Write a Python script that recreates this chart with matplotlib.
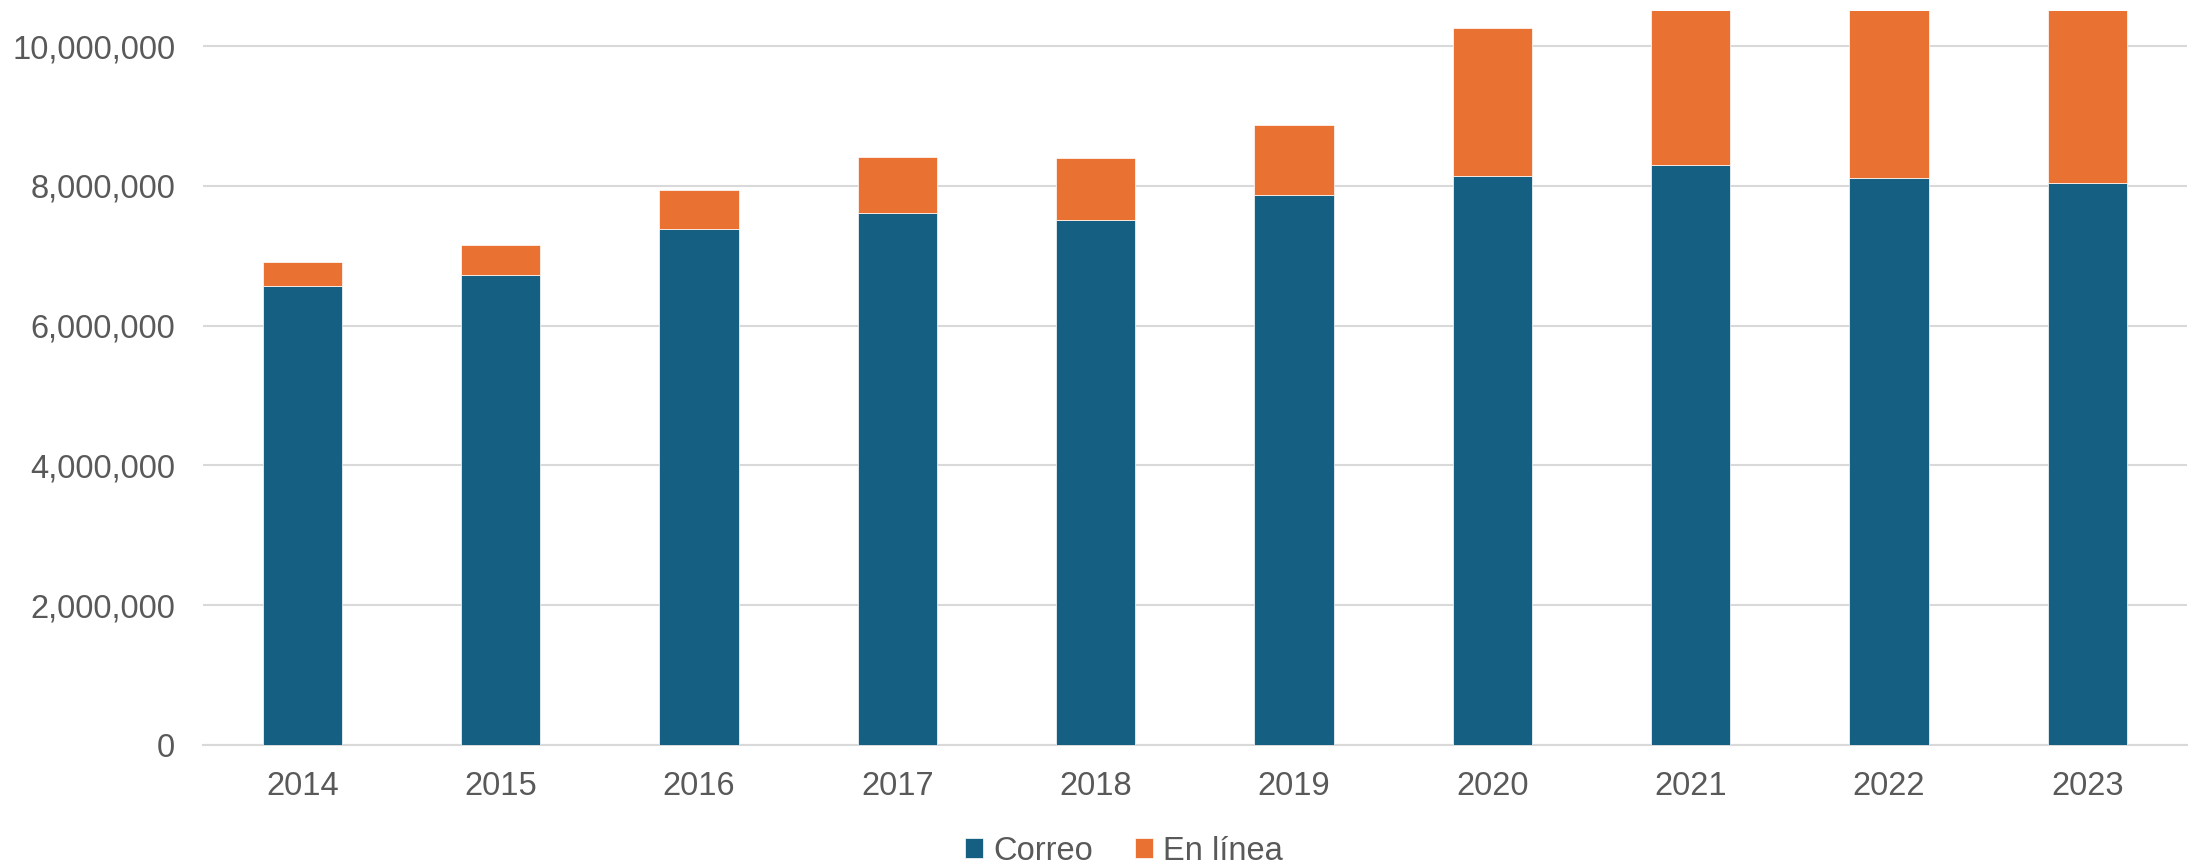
import numpy as np
import matplotlib.pyplot as plt
from matplotlib.ticker import FuncFormatter

plt.rcParams['font.family'] = ['Liberation Sans', 'DejaVu Sans']

years = ['2014', '2015', '2016', '2017', '2018', '2019', '2020', '2021', '2022', '2023']
correo = [6560000, 6720000, 7380000, 7615000, 7510000, 7870000, 8140000, 8295000, 8120000, 8040000]
en_linea = [345000, 440000, 565000, 805000, 890000, 1005000, 2125000, 2650000, 2750000, 2850000]

BLUE = '#156082'
ORANGE = '#E97132'
TEXT = '#595959'
GRID = '#D9D9D9'

fig = plt.figure(figsize=(21.91, 8.64), dpi=100)
ax = fig.add_axes([0.0927, 0.138, 0.9053, 0.849])

x = np.arange(len(years))
width = 0.40
ax.bar(x, correo, width, color=BLUE, edgecolor='white', linewidth=0.5, label='Correo', zorder=3)
ax.bar(x, en_linea, width, bottom=correo, color=ORANGE, edgecolor='white', linewidth=0.5,
       label='En línea', zorder=3)

ax.set_xlim(-0.5, len(years) - 0.5)
ax.set_ylim(0, 10500000)
ax.set_yticks(np.arange(0, 10000001, 2000000))
ax.yaxis.set_major_formatter(FuncFormatter(lambda v, p: f'{int(v):,}'))
ax.set_xticks(x)
ax.set_xticklabels(years)

ax.grid(axis='y', color=GRID, linewidth=1.5, zorder=0)
for side in ['top', 'right', 'left']:
    ax.spines[side].set_visible(False)
ax.spines['bottom'].set_color(GRID)
ax.spines['bottom'].set_linewidth(1.5)
ax.tick_params(axis='both', length=0, labelsize=23.5, labelcolor=TEXT)
ax.tick_params(axis='y', pad=20)
ax.tick_params(axis='x', pad=19)

fig.legend(loc='center', bbox_to_anchor=(0.513, 0.015), ncol=2, frameon=False,
           fontsize=23.5, labelcolor=TEXT, handlelength=0.55, handleheight=0.55,
           handletextpad=0.3, columnspacing=1.3)

fig.savefig('out.png', dpi=100)
